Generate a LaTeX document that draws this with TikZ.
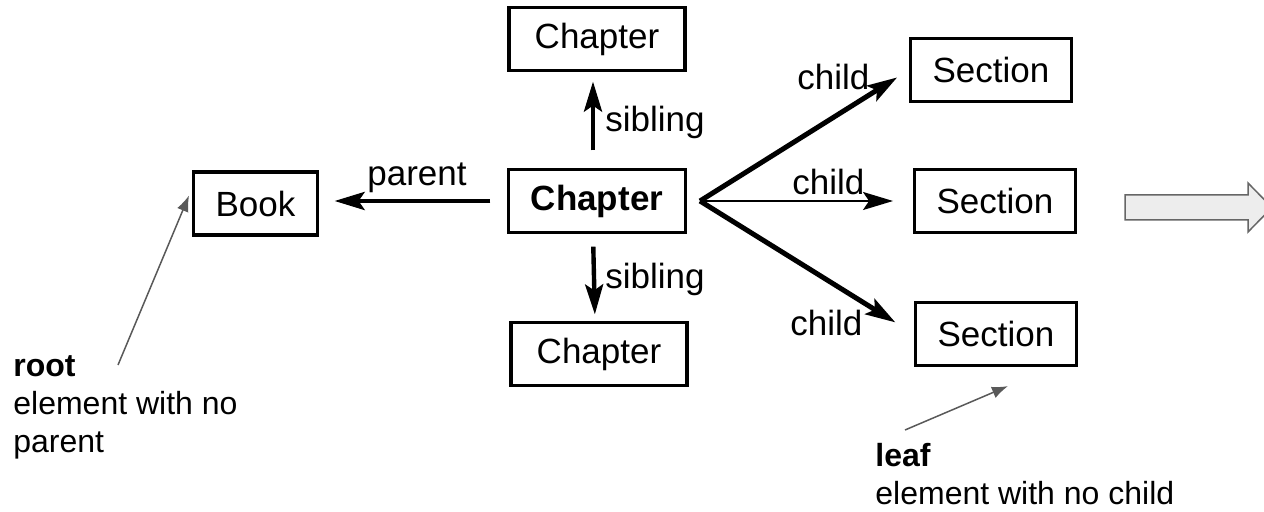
\documentclass[tikz,border=0pt]{standalone}
\usepackage{fontspec}
\setmainfont{Liberation Sans}
\usetikzlibrary{arrows.meta}
\tikzset {>=Stealth}
\tikzset{
  elem/.style={draw,line width=1.6pt,minimum height=31.5pt,inner xsep=11pt,
    font=\fontsize{17.5}{21}\selectfont},
  chap/.style={elem,minimum width=88pt},
  rel/.style={->,line width=2.2pt,>={Stealth[length=15pt,width=9pt,inset=3pt]}},
  lbl/.style={anchor=base west,inner sep=0pt,font=\fontsize{17.5}{21}\selectfont},
  note/.style={anchor=base west,inner sep=0pt,align=left,
    font=\fontsize{16}{19}\selectfont},
  pointer/.style={-{Latex[length=8pt,width=6pt]},line width=0.75pt,draw=black!65,
    fill=black!65}
}

\begin{document}
\begin{tikzpicture}[x=0.5pt,y=-0.5pt]
\useasboundingbox (0,0) rectangle (1264,512);
\node[elem] (book) at (255.5,203.5) {Book};
\node[chap] (top) at (597,39) {Chapter};
\node[chap,font=\fontsize{17.5}{21}\selectfont\bfseries] (mid) at (597,201) {Chapter};
\node[chap] (bot) at (599,354) {Chapter};
\node[elem] (sec1) at (991,70) {Section};
\node[elem] (sec2) at (995,201) {Section};
\node[elem] (sec3) at (996,334) {Section};
\coordinate (fork) at (700,201);
\draw[rel,shorten <=8.5pt,shorten >=7.8pt] (mid.west) -- (mid.west -| book.east);
\draw[rel,shorten <=8.75pt,shorten >=4.75pt] ([xshift=-2pt]mid.north) -- ([xshift=-2pt]top.south);
\draw[rel,shorten <=6.25pt,shorten >=3.25pt] ([xshift=-2pt]mid.south) -- ([xshift=-2pt]bot.north);
\draw[rel,line width=2.5pt,shorten >=7pt] (fork) -- (sec1.west);
\draw[rel,line width=1pt,shorten >=10pt] (fork) -- (sec2.west);
\draw[rel,line width=2.5pt,shorten >=11pt] (fork) -- (sec3.west);
\node[lbl] (lparent) at (367,186) {parent};
\node[lbl] (lsibup) at (605,132) {sibling};
\node[lbl] (lsibdown) at (605,289) {sibling};
\node[lbl] (lchild1) at (797,90) {child};
\node[lbl] (lchild2) at (792,195) {child};
\node[lbl] (lchild3) at (790,336) {child};
% base of a multi-line note is its last line
\node[note] (root) at (13,453) {\textbf{root}\\element with no\\parent};
\node[note] (leaf) at (875,505) {\textbf{leaf}\\element with no child};
\coordinate (rootfoot) at (118,365);
\coordinate (leaffoot) at (905,430);
\draw[pointer] (rootfoot) -- ([xshift=-1.5pt,yshift=4pt]book.west);
\draw[pointer] (leaffoot) -- ([xshift=6pt,yshift=-9.5pt]sec3.south);
\draw[line width=0.75pt,draw=black!60,fill=black!7] (1125,195) -- (1248,195) -- (1248,183)
  -- (1272,207.5) -- (1248,232) -- (1248,220) -- (1125,220) -- cycle;
\end{tikzpicture}
\end{document}
